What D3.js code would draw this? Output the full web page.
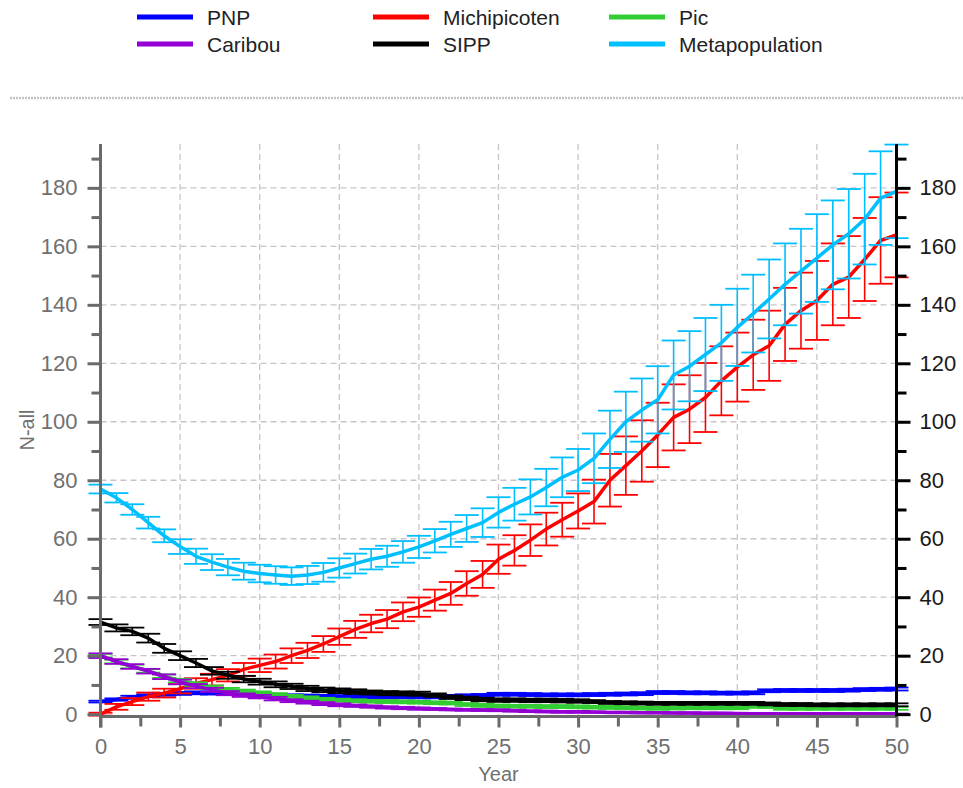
<!DOCTYPE html>
<html><head><meta charset="utf-8">
<script src="https://cdn.jsdelivr.net/npm/d3@7"></script>
<style>
body{margin:0;background:#fff;}
svg{display:block;font-family:"Liberation Sans",Arial,sans-serif;}
</style>
</head><body><svg id="c" width="963" height="788"></svg>
<script>
const years=[0,1,2,3,4,5,6,7,8,9,10,11,12,13,14,15,16,17,18,19,20,21,22,23,24,25,26,27,28,29,30,31,32,33,34,35,36,37,38,39,40,41,42,43,44,45,46,47,48,49,50];
const pnp=[4.3,5,5.8,6.3,6.8,7.1,7.3,7.2,7,6.8,6.6,6.4,6.3,6.2,6.1,6,6,5.9,5.9,5.9,5.9,5.9,6.1,6.3,6.4,6.8,6.8,6.7,6.6,6.6,6.6,6.7,6.8,6.9,7,7.4,7.4,7.3,7.3,7.2,7.2,7.3,8,8.1,8.1,8.1,8.1,8.2,8.4,8.5,8.6];
const pnpErr=[0.3,0.4,0.5,0.5,0.5,0.5,0.5,0.5,0.5,0.5,0.5,0.5,0.5,0.5,0.5,0.5,0.5,0.5,0.5,0.5,0.5,0.5,0.5,0.5,0.5,0.5,0.5,0.5,0.5,0.5,0.5,0.5,0.5,0.5,0.5,0.5,0.5,0.5,0.5,0.5,0.5,0.5,0.5,0.5,0.5,0.5,0.5,0.5,0.5,0.5,0.5];
const michipicoten=[0,2.5,4.3,6,7.2,8.7,10.5,11.8,13.3,15.3,16.7,18,20,21.8,24,26.5,29,31,32.5,35,36.6,39,41.3,44.7,47.8,53,56,59.5,63.3,66.5,69.5,72.7,80,85,90,95.5,101.5,104.3,108.3,114,118.7,122.9,126,133.3,138,141.5,147,149.5,155.5,162,163.9];
const michipicotenErr=[0.5,1,1.2,1.4,1.5,1.6,1.8,2,2.1,2.2,2.3,2.4,2.5,2.6,2.7,2.8,2.9,3,3.1,3.2,3.3,3.6,3.9,4.2,4.6,5,5.2,5.4,5.6,5.8,6,7.5,9,10,10.5,11,11.3,11.6,11.8,11.8,11.8,12,12,12.5,13,13.5,14,14,14.2,14.8,14.5];
const pic=[20,18,16.3,14.8,13,11.5,10.3,9.2,8.4,7.8,7.3,6.7,6.1,5.6,5.1,4.8,4.6,4.4,4.3,4.2,4.1,3.9,3.8,3.3,3,2.8,2.7,2.7,2.6,2.6,2.5,2.4,2.3,2.2,2.1,2,2.1,2.2,2.2,2.2,2.2,2.7,2.6,2,2,2,2,2,2,2,2];
const picErr=[0.6,0.6,0.6,0.6,0.6,0.6,0.6,0.6,0.6,0.6,0.5,0.5,0.5,0.5,0.5,0.5,0.5,0.5,0.5,0.5,0.5,0.5,0.5,0.5,0.5,0.5,0.5,0.5,0.5,0.5,0.5,0.5,0.5,0.5,0.5,0.5,0.5,0.5,0.5,0.5,0.5,0.5,0.5,0.5,0.5,0.5,0.5,0.5,0.5,0.5,0.5];
const caribou=[20,18,16.3,14.7,12.8,11,9.6,8.3,7.2,6.5,6,5.3,4.6,4.1,3.6,3.2,2.9,2.6,2.3,2.1,1.9,1.8,1.6,1.5,1.4,1.3,1.2,1,0.9,0.8,0.8,0.7,0.6,0.6,0.5,0.5,0.4,0.4,0.3,0.3,0.2,0.1,0.1,0.1,0.1,0.1,0.1,0.1,0.1,0.1,0.1];
const caribouErr=[0.8,0.8,0.8,0.8,0.8,0.8,0.7,0.7,0.7,0.6,0.6,0.6,0.5,0.5,0.5,0.5,0.4,0.4,0.4,0.4,0.4,0.3,0.3,0.3,0.3,0.3,0.3,0.3,0.3,0.3,0.3,0.2,0.2,0.2,0.2,0.2,0.2,0.2,0.2,0.2,0.2,0.1,0.1,0.1,0.1,0.1,0.1,0.1,0.1,0.1,0.1];
const sipp=[31.5,29.5,28.3,26,22.5,20,17.5,14.8,13.3,12,11.1,10.2,9.5,8.8,8.3,8,7.7,7.4,7.2,7.1,7,6.5,5.8,5.4,5,4.8,4.8,4.7,4.7,4.6,4.5,4.3,4,3.9,3.8,3.7,3.7,3.7,3.7,3.7,3.7,3.7,3.5,3.3,3.3,3.2,3.2,3.2,3.2,3.2,3.2];
const sippErr=[1,1.2,1.3,1.5,1.5,1.5,1.4,1.3,1.2,1.1,1,1,0.9,0.9,0.8,0.8,0.8,0.7,0.7,0.7,0.7,0.6,0.6,0.6,0.6,0.6,0.6,0.6,0.6,0.6,0.6,0.5,0.5,0.5,0.5,0.5,0.5,0.5,0.5,0.5,0.5,0.5,0.5,0.5,0.5,0.5,0.5,0.5,0.5,0.5,0.5];
const metapopulation=[77,74,70,65.5,61,57.3,54,52,50.3,48.9,48.1,47.6,47.2,47.6,48.5,50,51.5,53,54,55.5,57.2,59.3,61.5,63.5,65.5,69,71.8,74.3,77.5,81,83.5,87.5,94,100,104,107.5,116,119,123,127,132.3,137,142,147,151.5,156,160.5,164.3,169.3,176.5,178.8];
const metapopulationErr=[1.5,1.6,1.8,2,2.2,2.5,2.6,2.7,2.8,2.9,3,3,3,3.1,3.2,3.3,3.4,3.5,3.6,3.7,3.8,4,4.3,4.6,4.9,5.2,5.6,6,6.4,6.8,7.2,8.5,9.8,10.3,10.8,11.5,11.8,12,12.5,13,13.2,13.3,13.5,14,14.5,15,15.2,15.3,15.5,16,16];
const seriesNames=["PNP","Michipicoten","Pic","Caribou","SIPP","Metapopulation"];
const seriesColors=["#0000ff","#ff0000","#32cd32","#9400d3","#000000","#00bfff"];
const yMajorTicks=[0,20,40,60,80,100,120,140,160,180];
const yMinorTicks=[10,30,50,70,90,110,130,150,170,190];
const xMajorTicks=[0,5,10,15,20,25,30,35,40,45,50];
const xMinorTicks=[2.5,7.5,12.5,17.5,22.5,27.5,32.5,37.5,42.5,47.5];

const seriesData=[pnp,michipicoten,pic,caribou,sipp,metapopulation];
const seriesErr=[pnpErr,michipicotenErr,picErr,caribouErr,sippErr,metapopulationErr];

(function(){
const svg=d3.select("#c");
const x=d3.scaleLinear().domain([0,50]).range([100.5,896.5]);
const y=d3.scaleLinear().domain([-0.8,195]).range([716.5,144]);
const pL=x.range()[0], pR=x.range()[1], pB=y.range()[0], pT=y.range()[1];

svg.append("line").attr("x1",10).attr("x2",963).attr("y1",98).attr("y2",98)
  .attr("stroke","#c4c4c4").attr("stroke-width",2.5).attr("stroke-dasharray","2,1");

const legCols=[137,373,609], legRows=[17,44];
seriesNames.forEach((n,i)=>{
  const cx=legCols[i%3], cy=legRows[Math.floor(i/3)];
  const g=svg.append("g");
  g.append("line").attr("x1",cx).attr("x2",cx+56).attr("y1",cy).attr("y2",cy)
    .attr("stroke",seriesColors[i]).attr("stroke-width",5);
  g.append("text").attr("x",cx+70).attr("y",cy+8).attr("font-size",21).attr("fill","#222").text(n);
});

const grid=svg.append("g");
grid.selectAll(".gh").data(yMajorTicks.filter(d=>d>0)).join("line")
  .attr("x1",pL).attr("x2",pR).attr("y1",d=>y(d)).attr("y2",d=>y(d))
  .attr("stroke","#c9c3c9").attr("stroke-width",1.3).attr("stroke-dasharray","6,4");
grid.selectAll(".gv").data(xMajorTicks.filter(d=>d>0&&d<50)).join("line")
  .attr("x1",d=>x(d)).attr("x2",d=>x(d)).attr("y1",pT).attr("y2",pB)
  .attr("stroke","#c9c3c9").attr("stroke-width",1.3).attr("stroke-dasharray","6,4");

const line=d3.line().x((d,i)=>x(years[i])).y(d=>y(d));
seriesData.forEach((vals,si)=>{
  const err=seriesErr[si], col=seriesColors[si];
  const g=svg.append("g");
  const bars=g.selectAll("g.b").data(vals).join("g");
  bars.append("line").attr("x1",(d,i)=>x(years[i])).attr("x2",(d,i)=>x(years[i]))
    .attr("y1",(d,i)=>y(d+err[i])).attr("y2",(d,i)=>y(d-err[i]))
    .attr("stroke",col).attr("stroke-width",1.6);
  bars.append("line").attr("x1",(d,i)=>x(years[i])-12).attr("x2",(d,i)=>x(years[i])+12)
    .attr("y1",(d,i)=>y(d+err[i])).attr("y2",(d,i)=>y(d+err[i]))
    .attr("stroke",col).attr("stroke-width",1.8);
  bars.append("line").attr("x1",(d,i)=>x(years[i])-12).attr("x2",(d,i)=>x(years[i])+12)
    .attr("y1",(d,i)=>y(d-err[i])).attr("y2",(d,i)=>y(d-err[i]))
    .attr("stroke",col).attr("stroke-width",1.8);
  g.append("path").datum(vals).attr("d",line).attr("fill","none")
    .attr("stroke",col).attr("stroke-width",3.5).attr("stroke-linejoin","round");
});

const axCol="#6a6a6a", font=22;
function style(g,col,txtCol){
  g.select(".domain").remove();
  g.selectAll(".tick line").attr("stroke",col).attr("stroke-width",3);
  g.selectAll("text").attr("font-size",font).attr("fill",txtCol).attr("font-family","Liberation Sans, Arial, sans-serif");
}
svg.append("line").attr("x1",pL).attr("x2",pL).attr("y1",pT).attr("y2",pB+11).attr("stroke",axCol).attr("stroke-width",3);
svg.append("g").attr("transform",`translate(${pL},0)`)
  .call(d3.axisLeft(y).tickValues(yMajorTicks).tickSize(13).tickPadding(10).tickFormat(d3.format("d")))
  .call(g=>style(g,axCol,"#707070"));
svg.append("g").attr("transform",`translate(${pL},0)`)
  .call(d3.axisLeft(y).tickValues(yMinorTicks).tickSize(9).tickFormat(""))
  .call(g=>style(g,axCol,"#707070"));
svg.append("line").attr("x1",pL).attr("x2",pR).attr("y1",pB).attr("y2",pB).attr("stroke",axCol).attr("stroke-width",3);
svg.append("g").attr("transform",`translate(0,${pB})`)
  .call(d3.axisBottom(x).tickValues(xMajorTicks).tickSize(11).tickPadding(11).tickFormat(d3.format("d")))
  .call(g=>style(g,axCol,"#707070"));
svg.append("g").attr("transform",`translate(0,${pB})`)
  .call(d3.axisBottom(x).tickValues(xMinorTicks).tickSize(10).tickFormat(""))
  .call(g=>style(g,axCol,"#707070"));
svg.append("line").attr("x1",pR).attr("x2",pR).attr("y1",pT).attr("y2",pB).attr("stroke","#000").attr("stroke-width",3);
svg.append("g").attr("transform",`translate(${pR},0)`)
  .call(d3.axisRight(y).tickValues(yMajorTicks).tickSize(14).tickPadding(9).tickFormat(d3.format("d")))
  .call(g=>style(g,"#000","#1a1a1a"));
svg.append("g").attr("transform",`translate(${pR},0)`)
  .call(d3.axisRight(y).tickValues(yMinorTicks).tickSize(10).tickFormat(""))
  .call(g=>style(g,"#000","#1a1a1a"));

svg.append("text").attr("transform","translate(34,430) rotate(-90)").attr("text-anchor","middle")
  .attr("font-size",20).attr("fill","#707070").text("N-all");
svg.append("text").attr("x",(pL+pR)/2).attr("y",781).attr("text-anchor","middle")
  .attr("font-size",20).attr("fill","#707070").text("Year");
})();
</script></body></html>
